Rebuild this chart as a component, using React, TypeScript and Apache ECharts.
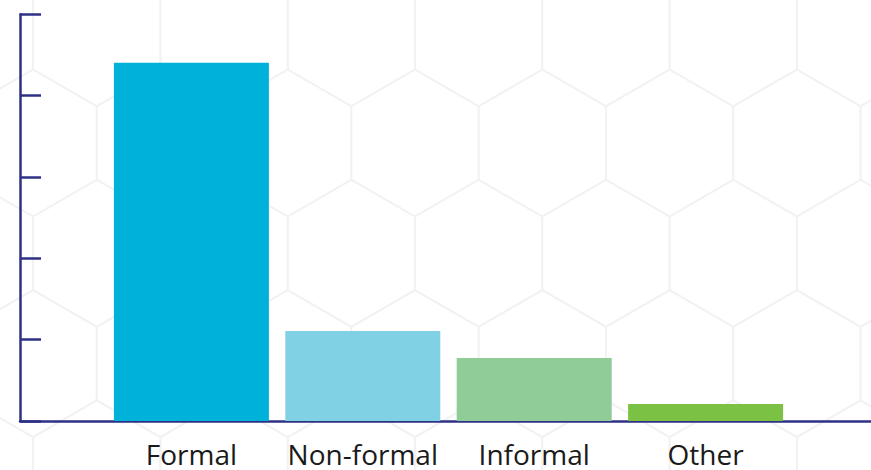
import React, { useEffect, useRef } from "react";
import * as echarts from "echarts";

const categories = ["Formal", "Non-formal", "Informal", "Other"];
const values = [88.1, 22.1, 15.5, 4.2];
const barColors = ["#00b1d9", "#7fd1e3", "#8fcc98", "#7bc143"];
const yMin = 0;
const yMax = 100;
const yInterval = 20;

const NAVY = "#2e3086";

function hexBackground() {
  const w = 127.3;
  const R = 73.5;
  const rowStep = 110.3;
  const baseX = 542.3;
  const baseY = 143;
  const els: any[] = [];
  for (let j = -2; j <= 3; j++) {
    const cy = baseY + j * rowStep;
    const off = Math.abs(j) % 2 === 1 ? w / 2 : 0;
    for (let i = -6; i <= 4; i++) {
      const cx = baseX + off + i * w;
      if (cx < -w || cx > 871 + w) continue;
      els.push({
        type: "polygon",
        silent: true,
        z: -10,
        shape: {
          points: [
            [cx, cy - R],
            [cx + w / 2, cy - R / 2],
            [cx + w / 2, cy + R / 2],
            [cx, cy + R],
            [cx - w / 2, cy + R / 2],
            [cx - w / 2, cy - R / 2],
          ],
        },
        style: { fill: "none", stroke: "#f2f2f2", lineWidth: 1.8 },
      });
    }
  }
  return els;
}

export default function App() {
  const ref = useRef<HTMLDivElement>(null);
  useEffect(() => {
    if (!ref.current) return;
    const chart = echarts.init(ref.current, undefined, { renderer: "svg" });
    const axisCats = ["", ...categories, ""];
    const seriesData = [
      null,
      ...values.map((v, i) => ({ value: v, itemStyle: { color: barColors[i] } })),
      null,
    ];
    chart.setOption({
      animation: false,
      backgroundColor: "#ffffff",
      graphic: { elements: hexBackground() },
      grid: {
        left: 20,
        top: 14.3,
        width: 857,
        bottom: 49,
        containLabel: false,
        outerBoundsMode: "none",
      },
      xAxis: {
        type: "category",
        data: axisCats,
        boundaryGap: false,
        axisLine: { show: true, lineStyle: { color: NAVY, width: 2.5 } },
        axisTick: { show: false },
        axisLabel: {
          interval: 0,
          margin: 21,
          lineHeight: 23,
          color: "#1a1a1a",
          fontSize: 28,
          fontFamily: "Open Sans",
        },
        splitLine: { show: false },
      },
      yAxis: {
        type: "value",
        min: yMin,
        max: yMax,
        interval: yInterval,
        axisLine: { show: true, lineStyle: { color: NAVY, width: 2.5 } },
        axisTick: { show: true, inside: true, length: 21, lineStyle: { color: NAVY, width: 2.5 } },
        axisLabel: { show: false },
        splitLine: { show: false },
      },
      series: [
        {
          type: "bar",
          data: seriesData,
          barWidth: 155,
        },
      ],
    });
    return () => chart.dispose();
  }, []);
  return (
    <div
      ref={ref}
      style={{ position: "fixed", left: 0, top: 0, width: 871, height: 470 }}
    />
  );
}
